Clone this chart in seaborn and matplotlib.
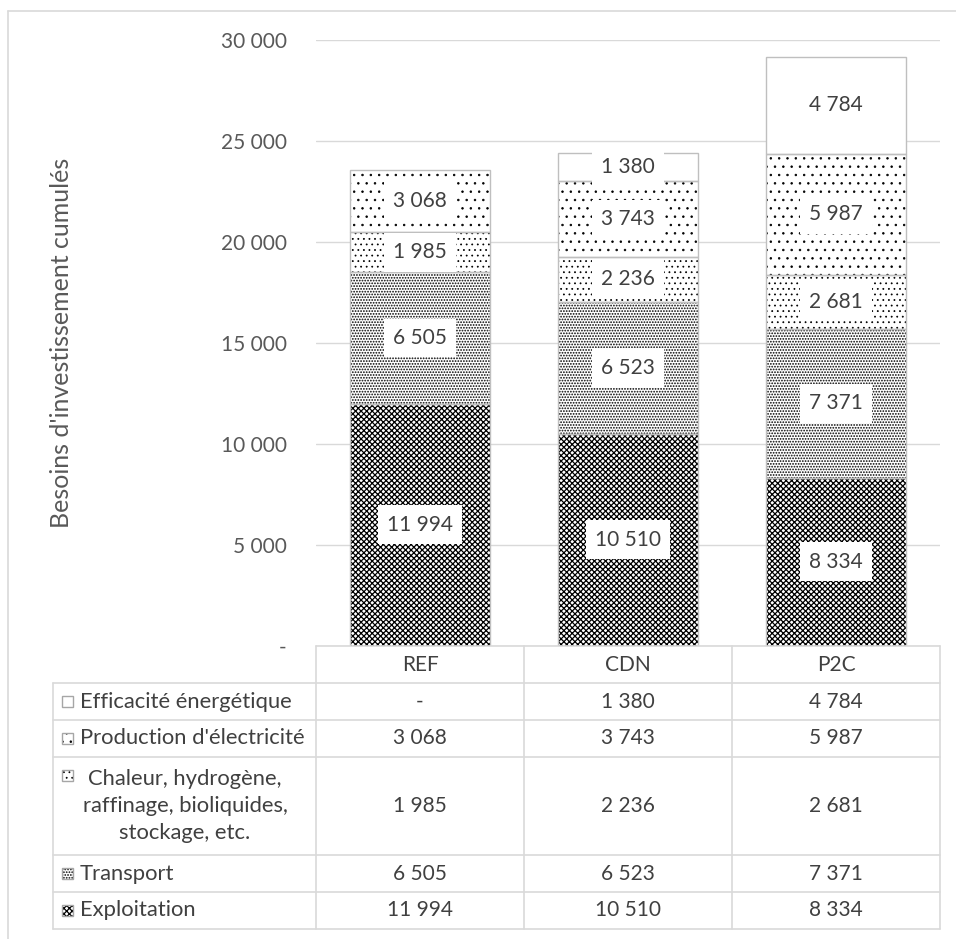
import matplotlib
matplotlib.use("Agg")
import matplotlib.pyplot as plt
import matplotlib.transforms as mtransforms
from matplotlib.patches import Rectangle
from matplotlib.lines import Line2D
import seaborn as sns

# Scenarios and cumulative investment needs per sector
scenarios = ["REF", "CDN", "P2C"]
exploitation = [11994, 10510, 8334]
transport = [6505, 6523, 7371]
chaleur = [1985, 2236, 2681]
production = [3068, 3743, 5987]
efficacite = [0, 1380, 4784]

series_labels = [
    "Exploitation",
    "Transport",
    "Chaleur, hydrogène,\nraffinage, bioliquides,\nstockage, etc.",
    "Production d'électricité",
    "Efficacité énergétique",
]
y_ticks = [0, 5000, 10000, 15000, 20000, 25000, 30000]
y_label = "Besoins d'investissement cumulés"

sns.set_theme(style="white")
plt.rcParams["font.family"] = ["Lato", "DejaVu Sans"]
plt.rcParams["hatch.linewidth"] = 0.9

W, H = 956, 939
FS = 15
FS_TXT = 15.8
GRID = "#d9d9d9"
TXT = "#404040"
TICK = "#595959"

def fx(px):
    return px / W

def fy(py):
    return 1 - py / H

def fmt(v):
    return "-" if v == 0 else f"{v:,}".replace(",", " ")

def set_hlw(patch, lw):
    if hasattr(patch, "set_hatch_linewidth"):
        patch.set_hatch_linewidth(lw)

fig = plt.figure(figsize=(W / 100, H / 100), dpi=100)
ax = fig.add_axes([fx(316), fy(646), fx(940) - fx(316), fy(40) - fy(646)])

layers = [exploitation, transport, chaleur, production, efficacite]
hatches = ["xxxxxx", "......", "...", "..", ""]
hatch_lw = [0.9, 0.85, 0.55, 0.55, 0.5]

bottoms = [0, 0, 0]
for vals, hatch, hlw in zip(layers, hatches, hatch_lw):
    sns.barplot(x=scenarios, y=vals, bottom=bottoms, color="white", saturation=1,
                width=0.67, edgecolor="black", linewidth=0, hatch=hatch, ax=ax, zorder=2)
    for patch in ax.containers[-1]:
        set_hlw(patch, hlw)
        if patch.get_height() > 0:
            ax.add_patch(Rectangle(patch.get_xy(), patch.get_width(), patch.get_height(),
                                   fill=False, edgecolor="#bfbfbf", linewidth=1.0, zorder=3))
    for i, v in enumerate(vals):
        if v > 0:
            ax.text(i, bottoms[i] + v / 2, fmt(v), ha="center", va="center", fontsize=FS,
                    color=TXT, zorder=4,
                    bbox=dict(facecolor="white", edgecolor="none", boxstyle="square,pad=0.45"))
    bottoms = [b + v for b, v in zip(bottoms, vals)]

ax.set_xlim(-0.5, 2.5)
ax.set_ylim(0, 30000)
ax.set_yticks(y_ticks)
ax.set_yticklabels([fmt(t) for t in y_ticks], fontsize=FS, color=TICK)
ax.tick_params(axis="y", length=0, pad=21)
ax.set_xticks([])
ax.set_xlabel("")
ax.yaxis.grid(True, color=GRID, linewidth=1.0)
ax.set_axisbelow(True)
for s in ax.spines.values():
    s.set_visible(False)
ax.set_ylabel(y_label, fontsize=18, color=TICK, va="center")
ax.yaxis.set_label_coords((62 - 316) / (940 - 316), 0.5)

# Data table under the chart
tr = mtransforms.blended_transform_factory(ax.transData, fig.transFigure)
col_edges = [-0.5, 0.5, 1.5, 2.5]
rows_top = [683, 720, 757, 855, 892, 929]

def hline(x0, x1, py):
    fig.add_artist(Line2D([fx(x0), fx(x1)], [fy(py), fy(py)], color=GRID, lw=1.2))

def vline(px, y0, y1):
    fig.add_artist(Line2D([fx(px), fx(px)], [fy(y0), fy(y1)], color=GRID, lw=1.2))

hline(316, 940, 646)
for py in rows_top:
    hline(53, 940, py)
vline(53, 683, 929)
for xe in col_edges:
    px = ax.transData.transform((xe, 0))[0]
    vline(px, 646, 929)

for i, sc in enumerate(scenarios):
    fig.text(i, fy(665), sc, transform=tr, ha="center", va="center", fontsize=FS, color=TXT)

# rows from top to bottom: reversed stacking order
table_rows = list(zip(series_labels, layers, hatches, hatch_lw))[::-1]
for r, (lab, vals, hatch, hlw) in enumerate(table_rows):
    top, bot = rows_top[r], rows_top[r + 1]
    cy = (top + bot) / 2
    if "\n" in lab:
        fig.text(fx(185), fy(cy), lab, ha="center", va="center", fontsize=FS_TXT, color=TXT,
                 linespacing=1.42, multialignment="center")
        ky = top + 18
    else:
        fig.text(fx(80), fy(cy), lab, ha="left", va="center", fontsize=FS_TXT, color=TXT)
        ky = cy
    key = Rectangle((fx(62), fy(ky + 5.5)), fx(11), 11 / H, facecolor="white",
                    edgecolor="black", linewidth=0, hatch=hatch, transform=fig.transFigure)
    set_hlw(key, hlw)
    fig.add_artist(key)
    fig.add_artist(Rectangle((fx(62), fy(ky + 5.5)), fx(11), 11 / H, fill=False,
                             edgecolor="#a6a6a6", linewidth=1.0, transform=fig.transFigure))
    for i, v in enumerate(vals):
        fig.text(i, fy(cy), fmt(v), transform=tr, ha="center", va="center", fontsize=FS, color=TXT)

# Outer frame
fig.add_artist(Line2D([fx(8), fx(8)], [fy(11), 0], color=GRID, lw=1.2))
fig.add_artist(Line2D([fx(8), 1], [fy(11), fy(11)], color=GRID, lw=1.2))

fig.savefig("out.png", dpi=100, facecolor="white")
